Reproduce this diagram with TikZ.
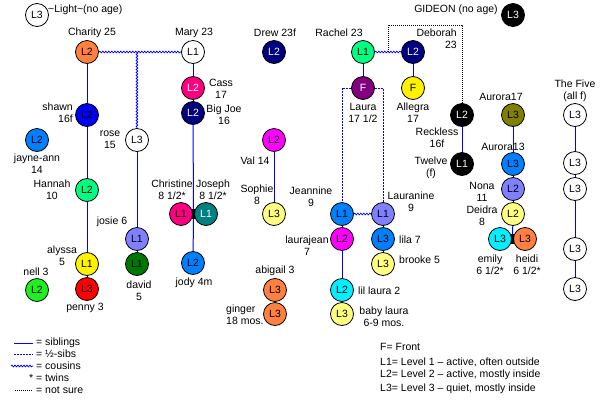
\documentclass[tikz,border=0pt]{standalone}
\usepackage{fontspec}
\setmainfont{Liberation Sans}
\usetikzlibrary{decorations.pathmorphing}
\definecolor{orng}{RGB}{255,128,64}
\definecolor{pureblue}{RGB}{0,0,240}
\definecolor{azure}{RGB}{0,128,255}
\definecolor{spring}{RGB}{0,255,128}
\definecolor{lme}{RGB}{32,240,32}
\definecolor{lavender}{RGB}{128,128,255}
\definecolor{dkgreen}{RGB}{0,120,0}
\definecolor{hotpink}{RGB}{255,0,128}
\definecolor{navy}{RGB}{0,0,128}
\definecolor{tealc}{RGB}{0,128,128}
\definecolor{mgnt}{RGB}{255,0,255}
\definecolor{paleyel}{RGB}{255,255,128}
\definecolor{prpl}{RGB}{128,0,128}
\definecolor{olv}{RGB}{128,128,0}
\definecolor{cyn}{RGB}{0,240,255}

\begin{document}
\begin{tikzpicture}[x=1pt,y=-1pt,
    person/.style={circle,draw,line width=0.8pt,fill=white,minimum size=23pt,inner sep=0pt,
        font=\fontsize{10.5}{11}\selectfont},
    lbl/.style={align=center,inner sep=0pt,font=\fontsize{10.5}{12}\selectfont},
    sibs/.style={blue,line width=1pt},
    touch/.style={black,line width=1pt},
    halfsibs/.style={blue,line width=1pt,dash pattern=on 2pt off 1pt},
    cousins/.style={blue,line width=0.8pt,decorate,
        decoration={snake,amplitude=0.8pt,segment length=3pt}},
    unsure/.style={black,line width=0.8pt,dash pattern=on 1pt off 1pt},
    twin/.style={fill=black,minimum width=3pt,minimum height=10pt,inner sep=0pt}]
    \useasboundingbox (0,0) rectangle (600,400);

    % Light and Gideon
    \node[person] (light) at (37,15) {L3};
    \node[lbl,anchor=west] (lightlbl) at (48,10) {\textasciitilde Light\textasciitilde(no age)};
    \node[lbl] (gideonlbl) at (456,10) {GIDEON (no age)};
    \node[person,fill=black,text=white] (gideon) at (513,15) {L3};

    % Charity
    \node[lbl] (charitylbl) at (92,33) {Charity 25};
    \node[person,fill=orng] (charity) at (87,52) {L2};
    \node[person,fill=pureblue] (shawn) at (87,115) {L2};
    \node[lbl,anchor=east,align=right] (shawnlbl) at (73,113) {shawn\\16f};
    \node[person,fill=azure] (jayne) at (37,140) {L2};
    \node[lbl] (jaynelbl) at (37,164) {jayne-ann\\14};
    \node[person,fill=spring] (hannah) at (87,190) {L2};
    \node[lbl] (hannahlbl) at (52,190) {Hannah\\10};
    \node[person,fill=yellow] (alyssa) at (87,264) {L1};
    \node[lbl] (alyssalbl) at (62,256) {alyssa\\5};
    \node[person,fill=red] (penny) at (87,289) {L3};
    \node[lbl] (pennylbl) at (85,308) {penny 3};
    \node[person,fill=lme] (nell) at (37,290) {L2};
    \node[lbl] (nelllbl) at (36,272) {nell 3};
    \node[person] (rose) at (137,140) {L3};
    \node[lbl] (roselbl) at (110,140) {rose\\15};
    \node[person,fill=lavender] (josie) at (137,239) {L1};
    \node[lbl] (josielbl) at (112,222) {josie 6};
    \node[person,fill=dkgreen] (david) at (137,264) {L1};
    \node[lbl] (davidlbl) at (139,291) {david\\5};

    % Mary
    \node[lbl] (marylbl) at (194,33) {Mary 23};
    \node[person] (mary) at (193,52) {L1};
    \node[person,fill=hotpink,text=white] (cass) at (193,88) {L2};
    \node[lbl] (casslbl) at (221,89) {Cass\\17};
    \node[person,fill=navy,text=white] (bigjoe) at (193,113) {L2};
    \node[lbl] (bigjoelbl) at (224,115) {Big Joe\\16};
    \node[person,fill=hotpink] (christine) at (181,214) {L1};
    \node[person,fill=tealc,text=white] (joseph) at (206,214) {L1};
    \node[twin] (cjtwin) at (193.5,214) {};
    \node[lbl] (christinelbl) at (172,190) {Christine\\8 1/2*};
    \node[lbl] (josephlbl) at (213,190) {Joseph\\8 1/2*};
    \node[person,fill=azure] (jody) at (193,263) {L2};
    \node[lbl] (jodylbl) at (194,283) {jody 4m};

    % Drew
    \node[lbl] (drewlbl) at (275,33) {Drew 23f};
    \node[person,fill=navy,text=white] (drew) at (274,52) {L2};
    \node[person,fill=mgnt] (val) at (274,140) {L2};
    \node[lbl] (vallbl) at (255,161) {Val 14};
    \node[person,fill=paleyel] (sophie) at (274,214) {L3};
    \node[lbl] (sophielbl) at (257,195) {Sophie\\8};
    \node[lbl] (abigaillbl) at (275,271) {abigail 3};
    \node[person,fill=orng] (abigail) at (275,290) {L3};
    \node[person,fill=orng] (ginger) at (275,314) {L3};
    \node[lbl,anchor=west,align=left] (gingerlbl) at (226,315) {ginger\\18 mos.};

    % Rachel and Deborah
    \node[lbl] (rachellbl) at (339,33) {Rachel 23};
    \node[person,fill=spring] (rachel) at (363,52) {L1};
    \node[person,fill=navy,text=white] (deborah) at (413,52) {L2};
    \node[lbl,anchor=east,align=right] (deborahlbl) at (457,39) {Deborah\\23};
    \node[person,fill=prpl,text=white] (laura) at (363,88) {F};
    \node[lbl] (lauralbl) at (363,113) {Laura\\17 1/2};
    \node[person,fill=yellow] (allegra) at (413,88) {F};
    \node[lbl] (allegralbl) at (413,113) {Allegra\\17};
    \node[person,fill=azure] (jeannine) at (342,214) {L1};
    \node[lbl] (jeanninelbl) at (311,197) {Jeannine\\9};
    \node[person,fill=lavender] (lauranine) at (383,214) {L1};
    \node[lbl] (lauraninelbl) at (411,202) {Lauranine\\9};
    \node[person,fill=mgnt] (laurajean) at (342,239) {L2};
    \node[lbl] (laurajeanlbl) at (307,246) {laurajean\\7};
    \node[person,fill=azure] (lila) at (383,239) {L3};
    \node[lbl,anchor=west] (lilalbl) at (399,240) {lila 7};
    \node[person,fill=paleyel] (brooke) at (383,264) {L3};
    \node[lbl,anchor=west] (brookelbl) at (399,260) {brooke 5};
    \node[person,fill=cyn] (lillaura) at (342,290) {L2};
    \node[lbl,anchor=west] (lillauralbl) at (358,291) {lil laura 2};
    \node[person,fill=paleyel] (babylaura) at (342,314) {L3};
    \node[lbl] (babylauralbl) at (384,317) {baby laura\\6-9 mos.};
    \node[person,fill=black,text=white] (reckless) at (462,115) {L2};
    \node[lbl] (recklesslbl) at (437,138) {Reckless\\16f};
    \node[person,fill=black,text=white] (twelve) at (462,164) {L1};
    \node[lbl] (twelvelbl) at (431,168) {Twelve\\(f)};

    % Aurora
    \node[lbl] (aurora17lbl) at (501,97) {Aurora17};
    \node[person,fill=olv] (aurora17) at (513,115) {L3};
    \node[lbl] (aurora13lbl) at (503,147) {Aurora13};
    \node[person,fill=azure] (aurora13) at (513,164) {L3};
    \node[person,fill=lavender] (nona) at (513,189) {L2};
    \node[lbl] (nonalbl) at (482,192) {Nona\\11};
    \node[person,fill=paleyel] (deidra) at (513,214) {L2};
    \node[lbl] (deidralbl) at (482,216) {Deidra\\8};
    \node[person,fill=cyn] (emily) at (500,239) {L3};
    \node[person,fill=orng] (heidi) at (525,239) {L3};
    \node[twin] (ehtwin) at (512.5,239) {};
    \node[lbl] (emilylbl) at (490,265) {emily\\6 1/2*};
    \node[lbl] (heidilbl) at (527,265) {heidi\\6 1/2*};

    % The Five
    \node[lbl] (fivelbl) at (575,91) {The Five\\(all f)};
    \foreach \y [count=\i] in {115,163,189,249,289}
        \node[person] (five\i) at (575,\y) {L3};
    \foreach \i/\j in {1/2,2/3,3/4,4/5}
        \draw[sibs] (five\i) -- (five\j);

    % relations
    \draw[sibs] (charity) -- (shawn);
    \draw[sibs] (shawn) -- (hannah);
    \draw[sibs] (hannah) -- (alyssa);
    \draw[touch] (alyssa) -- (penny);
    \draw[cousins] (charity) -- (mary);
    \coordinate (rosetop) at (137,52);
    \draw[cousins] (rosetop) -- (rose);
    \draw[sibs] (rose) -- (josie);
    \draw[touch] (josie) -- (david);
    \draw[sibs] (mary) -- (cass);
    \draw[touch] (cass) -- (bigjoe);
    \draw[sibs] (bigjoe) -- (cjtwin);
    \draw[sibs] (cjtwin) -- (jody);
    \draw[sibs] (val) -- (sophie);
    \draw[touch] (abigail) -- (ginger);
    \draw[cousins] (rachel) -- (deborah);
    \draw[sibs] (rachel) -- (laura);
    \draw[sibs] (deborah) -- (allegra);
    \draw[halfsibs] (laura.west) -| (jeannine);
    \draw[halfsibs] (laura.east) -| (lauranine);
    \draw[cousins] (jeannine) -- (lauranine);
    \draw[touch] (jeannine) -- (laurajean);
    \draw[sibs] (laurajean) -- (lillaura);
    \draw[touch] (lillaura) -- (babylaura);
    \draw[touch] (lauranine) -- (lila);
    \draw[touch] (lila) -- (brooke);
    \coordinate (rdmid) at (388,52);
    \coordinate (rdtop) at (388,25);
    \draw[unsure] (rdmid) -- (rdtop) -| (reckless);
    \draw[sibs] (reckless) -- (twelve);
    \draw[sibs] (aurora17) -- (aurora13);
    \draw[touch] (aurora13) -- (nona);
    \draw[touch] (nona) -- (deidra);
    \draw[sibs] (deidra) -- (ehtwin);

    % key
    \coordinate (ka1) at (14,343); \coordinate (kb1) at (33,343);
    \coordinate (ka2) at (14,354); \coordinate (kb2) at (33,354);
    \coordinate (ka3) at (11,366); \coordinate (kb3) at (33,366);
    \coordinate (ka5) at (15,390); \coordinate (kb5) at (33,390);
    \draw[sibs] (ka1) -- (kb1);
    \draw[halfsibs] (ka2) -- (kb2);
    \draw[cousins] (ka3) -- (kb3);
    \draw[unsure] (ka5) -- (kb5);
    \node[lbl,anchor=west] (key1) at (36,343) {= siblings};
    \node[lbl,anchor=west] (key2) at (36,354) {= ½-sibs};
    \node[lbl,anchor=west] (key3) at (36,366) {= cousins};
    \node[lbl,anchor=west] (key4) at (29,378) {* = twins};
    \node[lbl,anchor=west] (key5) at (36,390) {= not sure};
    \node[lbl,anchor=west] (lvl0) at (380,347) {F= Front};
    \node[lbl,anchor=west] (lvl1) at (380,362) {L1= Level 1 -- active, often outside};
    \node[lbl,anchor=west] (lvl2) at (380,375) {L2= Level 2 -- active, mostly inside};
    \node[lbl,anchor=west] (lvl3) at (380,389) {L3= Level 3 -- quiet, mostly inside};
\end{tikzpicture}
\end{document}
